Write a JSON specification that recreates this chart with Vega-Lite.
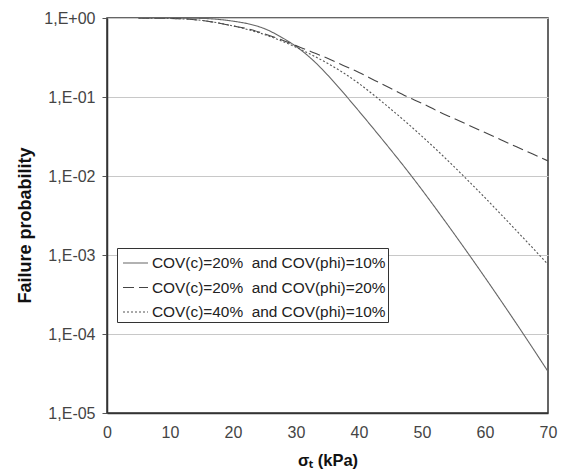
{
  "$schema": "https://vega.github.io/schema/vega-lite/v6.json",
  "width": 441,
  "height": 395,
  "autosize": {"type": "none"},
  "padding": {"left": 107, "top": 18, "right": 18, "bottom": 62},
  "config": {
    "font": "Liberation Sans",
    "view": {"stroke": "#333333", "strokeWidth": 1.5},
    "background": "white"
  },
  "datasets": {
    "curves": [
      {"x": 5, "p": 1, "s": "A"}, {"x": 10, "p": 1, "s": "A"}, {"x": 15, "p": 0.9886, "s": "A"}, {"x": 20, "p": 0.912, "s": "A"},
      {"x": 22.5, "p": 0.841, "s": "A"}, {"x": 25, "p": 0.733, "s": "A"}, {"x": 27.5, "p": 0.582, "s": "A"}, {"x": 30, "p": 0.437, "s": "A"},
      {"x": 32.5, "p": 0.302, "s": "A"}, {"x": 35, "p": 0.1905, "s": "A"}, {"x": 37.5, "p": 0.1135, "s": "A"}, {"x": 40, "p": 0.0661, "s": "A"},
      {"x": 42.5, "p": 0.038, "s": "A"}, {"x": 45, "p": 0.02163, "s": "A"}, {"x": 47.5, "p": 0.01216, "s": "A"}, {"x": 50, "p": 0.00668, "s": "A"},
      {"x": 52.5, "p": 0.00359, "s": "A"}, {"x": 55, "p": 0.001905, "s": "A"}, {"x": 57.5, "p": 0.001, "s": "A"}, {"x": 60, "p": 0.000519, "s": "A"},
      {"x": 62.5, "p": 0.000266, "s": "A"}, {"x": 65, "p": 0.000135, "s": "A"}, {"x": 67.5, "p": 0.0000676, "s": "A"}, {"x": 70, "p": 0.0000335, "s": "A"},

      {"x": 5, "p": 1, "s": "B"}, {"x": 10, "p": 0.9886, "s": "B"}, {"x": 15, "p": 0.933, "s": "B"}, {"x": 20, "p": 0.794, "s": "B"},
      {"x": 22.5, "p": 0.724, "s": "B"}, {"x": 25, "p": 0.631, "s": "B"}, {"x": 27.5, "p": 0.537, "s": "B"}, {"x": 30, "p": 0.447, "s": "B"},
      {"x": 32.5, "p": 0.372, "s": "B"}, {"x": 35, "p": 0.309, "s": "B"}, {"x": 37.5, "p": 0.251, "s": "B"}, {"x": 40, "p": 0.204, "s": "B"},
      {"x": 42.5, "p": 0.162, "s": "B"}, {"x": 45, "p": 0.129, "s": "B"}, {"x": 47.5, "p": 0.102, "s": "B"}, {"x": 50, "p": 0.0832, "s": "B"},
      {"x": 52.5, "p": 0.0661, "s": "B"}, {"x": 55, "p": 0.0537, "s": "B"}, {"x": 57.5, "p": 0.0437, "s": "B"}, {"x": 60, "p": 0.0355, "s": "B"},
      {"x": 62.5, "p": 0.0288, "s": "B"}, {"x": 65, "p": 0.0234, "s": "B"}, {"x": 67.5, "p": 0.0191, "s": "B"}, {"x": 70, "p": 0.0155, "s": "B"},

      {"x": 5, "p": 1, "s": "C"}, {"x": 10, "p": 0.9886, "s": "C"}, {"x": 15, "p": 0.933, "s": "C"}, {"x": 20, "p": 0.794, "s": "C"},
      {"x": 22.5, "p": 0.708, "s": "C"}, {"x": 25, "p": 0.617, "s": "C"}, {"x": 27.5, "p": 0.519, "s": "C"}, {"x": 30, "p": 0.427, "s": "C"},
      {"x": 32.5, "p": 0.341, "s": "C"}, {"x": 35, "p": 0.267, "s": "C"}, {"x": 37.5, "p": 0.203, "s": "C"}, {"x": 40, "p": 0.148, "s": "C"},
      {"x": 42.5, "p": 0.1035, "s": "C"}, {"x": 45, "p": 0.0708, "s": "C"}, {"x": 47.5, "p": 0.0479, "s": "C"}, {"x": 50, "p": 0.0318, "s": "C"},
      {"x": 52.5, "p": 0.02077, "s": "C"}, {"x": 55, "p": 0.01334, "s": "C"}, {"x": 57.5, "p": 0.00846, "s": "C"}, {"x": 60, "p": 0.00531, "s": "C"},
      {"x": 62.5, "p": 0.00329, "s": "C"}, {"x": 65, "p": 0.00203, "s": "C"}, {"x": 67.5, "p": 0.001245, "s": "C"}, {"x": 70, "p": 0.000759, "s": "C"}
    ],
    "labels": [
      {"s": "A", "name": "COV(c)=20%\u00a0 and COV(phi)=10%"},
      {"s": "B", "name": "COV(c)=20%\u00a0 and COV(phi)=20%"},
      {"s": "C", "name": "COV(c)=40%\u00a0 and COV(phi)=10%"}
    ]
  },
  "data": {"name": "curves"},
  "transform": [
    {"lookup": "s", "from": {"data": {"name": "labels"}, "key": "s", "fields": ["name"]}}
  ],
  "mark": {"type": "line", "strokeWidth": 1.1, "interpolate": "monotone", "clip": true},
  "encoding": {
    "x": {
      "field": "x", "type": "quantitative",
      "scale": {"domain": [0, 70], "nice": false},
      "axis": {
        "values": [0, 10, 20, 30, 40, 50, 60, 70],
        "title": "σₜ (kPa)",
        "titleFontSize": 16.5, "titleFontWeight": "bold", "titleColor": "#111111",
        "titlePadding": 12,
        "labelFontSize": 16, "labelColor": "#444444", "labelPadding": 11, "labelFlush": false,
        "ticks": false, "grid": false,
        "domainColor": "#333333", "domainWidth": 1.5
      }
    },
    "y": {
      "field": "p", "type": "quantitative",
      "scale": {"type": "log", "domain": [0.00001, 1], "nice": false},
      "axis": {
        "values": [0.00001, 0.0001, 0.001, 0.01, 0.1, 1],
        "labelExpr": "['1,E-05','1,E-04','1,E-03','1,E-02','1,E-01','1,E+00'][round(log(datum.value)/LN10)+5]",
        "title": "Failure probability",
        "titleFontSize": 18, "titleFontWeight": "bold", "titleColor": "#111111",
        "titlePadding": 9, "titleY": 207,
        "labelFontSize": 16, "labelColor": "#444444", "labelPadding": 7,
        "tickSize": 5, "tickColor": "#555555",
        "grid": true, "gridColor": "#c8c8c8", "gridWidth": 1,
        "domainColor": "#333333", "domainWidth": 1.5
      }
    },
    "strokeDash": {
      "field": "name", "type": "nominal",
      "scale": {
        "domain": ["COV(c)=20%\u00a0 and COV(phi)=10%", "COV(c)=20%\u00a0 and COV(phi)=20%", "COV(c)=40%\u00a0 and COV(phi)=10%"],
        "range": [[1, 0], [11, 5], [2, 2]]
      },
      "legend": {
        "title": null, "orient": "none", "legendX": 10, "legendY": 230,
        "symbolType": "stroke", "symbolSize": 625, "symbolStrokeWidth": 1.2, "symbolOffset": 3.5,
        "labelFontSize": 15.4, "labelColor": "#222222", "labelLimit": 400, "labelOffset": 3,
        "rowPadding": 2.5, "padding": 1.5,
        "strokeColor": "#333333", "fillColor": "white"
      }
    },
    "color": {
      "field": "name", "type": "nominal",
      "scale": {
        "domain": ["COV(c)=20%\u00a0 and COV(phi)=10%", "COV(c)=20%\u00a0 and COV(phi)=20%", "COV(c)=40%\u00a0 and COV(phi)=10%"],
        "range": ["#666666", "#444444", "#555555"]
      },
      "legend": {
        "title": null, "orient": "none", "legendX": 10, "legendY": 230,
        "symbolType": "stroke", "symbolSize": 625, "symbolStrokeWidth": 1.2, "symbolOffset": 3.5,
        "labelFontSize": 15.4, "labelColor": "#222222", "labelLimit": 400, "labelOffset": 3,
        "rowPadding": 2.5, "padding": 1.5,
        "strokeColor": "#333333", "fillColor": "white"
      }
    }
  }
}
